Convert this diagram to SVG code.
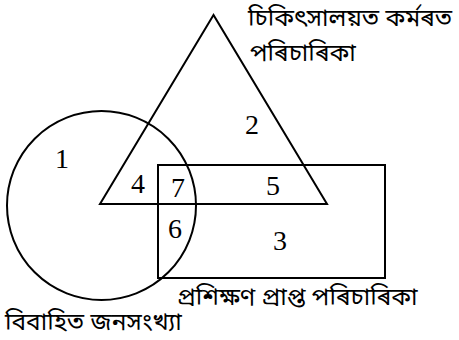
<svg xmlns="http://www.w3.org/2000/svg" width="459" height="340" viewBox="0 0 459 340">
<style>
.s{fill:none;stroke:#000;stroke-width:2}
.n{font-family:"Liberation Serif","DejaVu Serif",serif;font-size:28px;fill:#000;text-anchor:middle}
.b{font-family:"Noto Sans Bengali","Noto Serif Bengali","Lohit Assamese","Noto Sans","DejaVu Sans",sans-serif;font-size:24.5px;fill:#000}
</style>
<rect width="459" height="340" fill="#fff"/>
<g id="circle"><circle class="s" cx="101.5" cy="205.5" r="94.5"/><text class="b" x="5" y="330">বিবাহিত জনসংখ্যা</text></g>
<g id="triangle"><polygon class="s" points="213.5,15 100,204 327,204"/><text class="b" x="248" y="26">চিকিৎসালয়ত কৰ্মৰত</text><text class="b" x="250" y="61">পৰিচাৰিকা</text></g>
<g id="rect"><rect class="s" x="158" y="165" width="227" height="113"/><text class="b" x="177" y="305">প্ৰশিক্ষণ প্ৰাপ্ত পৰিচাৰিকা</text></g>
<g id="labels">
<text class="n" x="62" y="168">1</text>
<text class="n" x="252" y="134">2</text>
<text class="n" x="280" y="250">3</text>
<text class="n" x="138" y="193">4</text>
<text class="n" x="273" y="195">5</text>
<text class="n" x="175" y="238">6</text>
<text class="n" x="178" y="197">7</text>
</g>
</svg>
